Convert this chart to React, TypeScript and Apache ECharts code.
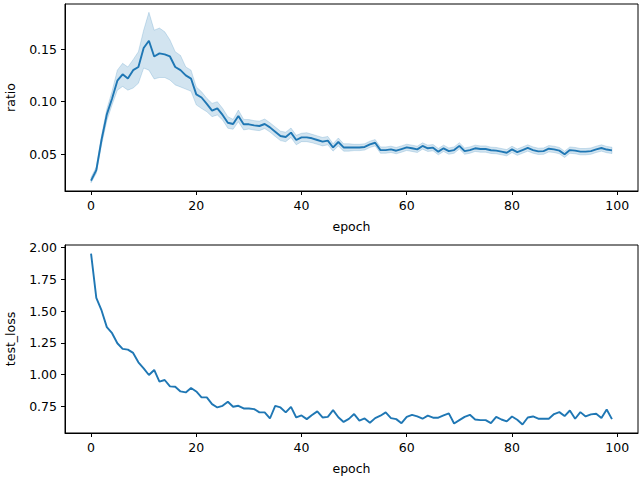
import React, { useEffect, useRef } from "react";
import * as echarts from "echarts";

const epochs: number[] = Array.from({ length: 100 }, (_, i) => i);

const ratioMean: number[] = [
  0.025, 0.035, 0.064, 0.088, 0.103, 0.12, 0.126, 0.122, 0.13, 0.133,
  0.151, 0.158, 0.143, 0.146, 0.145, 0.143, 0.133, 0.13, 0.125, 0.122,
  0.107, 0.104, 0.098, 0.0915, 0.0937, 0.0874, 0.08, 0.0788, 0.0864, 0.0785,
  0.0785, 0.0775, 0.0769, 0.0788, 0.0756, 0.0715, 0.0674, 0.0665, 0.0706, 0.0636,
  0.0661, 0.0661, 0.0652, 0.0636, 0.062, 0.063, 0.0565, 0.0617, 0.0565, 0.0565,
  0.0565, 0.0565, 0.057, 0.0595, 0.061, 0.054, 0.054, 0.0547, 0.0534, 0.055,
  0.0566, 0.0557, 0.0547, 0.0579, 0.0557, 0.0563, 0.0525, 0.0557, 0.053, 0.054,
  0.058, 0.053, 0.054, 0.0557, 0.055, 0.055, 0.0538, 0.0535, 0.0525, 0.0515,
  0.0547, 0.052, 0.054, 0.056, 0.054, 0.0528, 0.053, 0.0553, 0.0547, 0.0535,
  0.05, 0.054, 0.0535, 0.0525, 0.0525, 0.053, 0.0547, 0.056, 0.0545, 0.0537,
];

const ratioLow: number[] = [
  0.023, 0.032, 0.059, 0.082, 0.097, 0.111, 0.1145, 0.111, 0.113, 0.1175,
  0.132, 0.13, 0.1216, 0.123, 0.123, 0.1206, 0.116, 0.114, 0.112, 0.11,
  0.097, 0.0936, 0.0905, 0.0858, 0.0874, 0.0826, 0.0748, 0.0738, 0.081, 0.0732,
  0.074, 0.073, 0.0725, 0.0745, 0.0712, 0.067, 0.063, 0.062, 0.066, 0.059,
  0.062, 0.062, 0.061, 0.0595, 0.058, 0.059, 0.053, 0.058, 0.053, 0.053,
  0.0535, 0.0535, 0.054, 0.0565, 0.058, 0.051, 0.051, 0.0517, 0.0505, 0.052,
  0.0536, 0.0527, 0.0517, 0.0549, 0.0527, 0.0533, 0.0495, 0.0527, 0.05, 0.051,
  0.055, 0.05, 0.051, 0.0527, 0.052, 0.052, 0.0508, 0.0505, 0.0495, 0.0485,
  0.0517, 0.049, 0.051, 0.053, 0.051, 0.0498, 0.05, 0.0523, 0.0517, 0.0505,
  0.047, 0.051, 0.0505, 0.0495, 0.0495, 0.05, 0.0517, 0.053, 0.0515, 0.0507,
];

const ratioHigh: number[] = [
  0.028, 0.038, 0.068, 0.093, 0.11, 0.13, 0.1365, 0.133, 0.14, 0.1475,
  0.168, 0.185, 0.168, 0.17, 0.1665, 0.1587, 0.1475, 0.144, 0.133, 0.13,
  0.114, 0.1095, 0.1032, 0.0984, 0.1, 0.0937, 0.0858, 0.0832, 0.092, 0.0832,
  0.083, 0.082, 0.0815, 0.0835, 0.08, 0.076, 0.072, 0.071, 0.075, 0.068,
  0.07, 0.0705, 0.069, 0.0675, 0.066, 0.067, 0.06, 0.0655, 0.06, 0.06,
  0.0595, 0.0595, 0.06, 0.0625, 0.064, 0.057, 0.057, 0.0577, 0.0565, 0.058,
  0.0596, 0.0587, 0.0577, 0.0609, 0.0587, 0.0593, 0.0555, 0.0587, 0.056, 0.057,
  0.061, 0.056, 0.057, 0.0587, 0.058, 0.058, 0.0568, 0.0565, 0.0555, 0.0545,
  0.0577, 0.055, 0.057, 0.059, 0.057, 0.0558, 0.056, 0.0583, 0.0577, 0.0565,
  0.053, 0.057, 0.0565, 0.0555, 0.0555, 0.056, 0.0577, 0.059, 0.0575, 0.0567,
];

const testLoss: number[] = [
  1.953, 1.605, 1.505, 1.374, 1.326, 1.247, 1.203, 1.197, 1.171, 1.097,
  1.05, 0.997, 1.037, 0.945, 0.958, 0.908, 0.905, 0.868, 0.86, 0.895,
  0.868, 0.821, 0.821, 0.768, 0.742, 0.755, 0.787, 0.747, 0.755, 0.734,
  0.734, 0.729, 0.703, 0.703, 0.655, 0.755, 0.742, 0.703, 0.747, 0.663,
  0.679, 0.65, 0.682, 0.711, 0.663, 0.668, 0.721, 0.665, 0.628, 0.652,
  0.69, 0.638, 0.655, 0.621, 0.658, 0.677, 0.703, 0.658, 0.65, 0.618,
  0.668, 0.684, 0.671, 0.653, 0.677, 0.661, 0.661, 0.679, 0.695, 0.616,
  0.642, 0.668, 0.684, 0.647, 0.642, 0.642, 0.618, 0.668, 0.647, 0.632,
  0.671, 0.645, 0.608, 0.663, 0.671, 0.653, 0.653, 0.653, 0.69, 0.705,
  0.674, 0.718, 0.653, 0.705, 0.671, 0.687, 0.692, 0.658, 0.726, 0.65,
];

const xTicks: number[] = [0, 20, 40, 60, 80, 100];
const ratioTicks: number[] = [0.05, 0.1, 0.15];
const lossTicks: number[] = [0.75, 1.0, 1.25, 1.5, 1.75, 2.0];

const BLUE = "#1f77b4";
const BAND = "rgba(31,119,180,0.2)";
const FONT = "DejaVu Sans";
const FS = 12.5;

export default function App() {
  const ref = useRef<HTMLDivElement>(null);

  useEffect(() => {
    if (!ref.current) return;
    const chart = echarts.init(ref.current, undefined, { renderer: "svg" });

    const textStyle = { color: "#000", fontFamily: FONT, fontSize: FS };

    const makeX = (gridIndex: number) => ({
      type: "value" as const,
      gridIndex,
      min: -4.95,
      max: 103.95,
      name: "epoch",
      nameLocation: "middle" as const,
      nameGap: 29,
      nameTextStyle: textStyle,
      axisLine: { show: true, onZero: false, lineStyle: { color: "#000", width: 1 } },
      axisTick: {
        show: true,
        customValues: xTicks,
        length: 4,
        lineStyle: { color: "#000", width: 1 },
      },
      axisLabel: {
        customValues: xTicks,
        margin: 8,
        ...textStyle,
        formatter: (v: number) => String(Math.round(v)),
      },
      splitLine: { show: false },
    });

    const makeY = (
      gridIndex: number,
      min: number,
      max: number,
      ticks: number[],
      name: string
    ) => ({
      type: "value" as const,
      gridIndex,
      min,
      max,
      name,
      nameLocation: "middle" as const,
      nameGap: 48,
      nameTextStyle: textStyle,
      axisLine: { show: true, onZero: false, lineStyle: { color: "#000", width: 1 } },
      axisTick: {
        show: true,
        customValues: ticks,
        length: 4,
        lineStyle: { color: "#000", width: 1 },
      },
      axisLabel: {
        customValues: ticks,
        margin: 8,
        ...textStyle,
        formatter: (v: number) => v.toFixed(2),
      },
      splitLine: { show: false },
    });

    chart.setOption({
      animation: false,
      backgroundColor: "#fff",
      grid: [
        {
          left: 65,
          top: 4,
          width: 573,
          height: 187,
          containLabel: false,
          outerBoundsMode: "none",
          show: true,
          borderColor: "#000",
          borderWidth: 1,
          backgroundColor: "transparent",
        },
        {
          left: 65,
          top: 245,
          width: 573,
          height: 188,
          containLabel: false,
          outerBoundsMode: "none",
          show: true,
          borderColor: "#000",
          borderWidth: 1,
          backgroundColor: "transparent",
        },
      ],
      xAxis: [makeX(0), makeX(1)],
      yAxis: [
        makeY(0, 0.0151, 0.1929, ratioTicks, "ratio"),
        makeY(1, 0.5408, 2.0203, lossTicks, "test_loss"),
      ],
      series: [
        {
          type: "custom",
          xAxisIndex: 0,
          yAxisIndex: 0,
          data: [[epochs[0], ratioMean[0]]],
          silent: true,
          clip: true,
          z: 1,
          renderItem: (_params: any, api: any) => {
            const upper = epochs.map((e, i) => api.coord([e, ratioHigh[i]]));
            const lower = epochs
              .map((e, i) => api.coord([e, ratioLow[i]]))
              .reverse();
            return {
              type: "polygon",
              shape: { points: upper.concat(lower) },
              style: { fill: BAND, stroke: BAND, lineWidth: 1 },
            };
          },
        },
        {
          type: "line",
          xAxisIndex: 0,
          yAxisIndex: 0,
          symbol: "none",
          data: epochs.map((e, i) => [e, ratioMean[i]]),
          lineStyle: { color: BLUE, width: 1.9 },
          z: 3,
        },
        {
          type: "line",
          xAxisIndex: 1,
          yAxisIndex: 1,
          symbol: "none",
          data: epochs.map((e, i) => [e, testLoss[i]]),
          lineStyle: { color: BLUE, width: 1.9 },
          z: 3,
        },
      ],
    });

    return () => chart.dispose();
  }, []);

  return (
    <div
      ref={ref}
      style={{
        position: "fixed",
        left: 0,
        top: 0,
        width: 640,
        height: 480,
        background: "#fff",
      }}
    />
  );
}
